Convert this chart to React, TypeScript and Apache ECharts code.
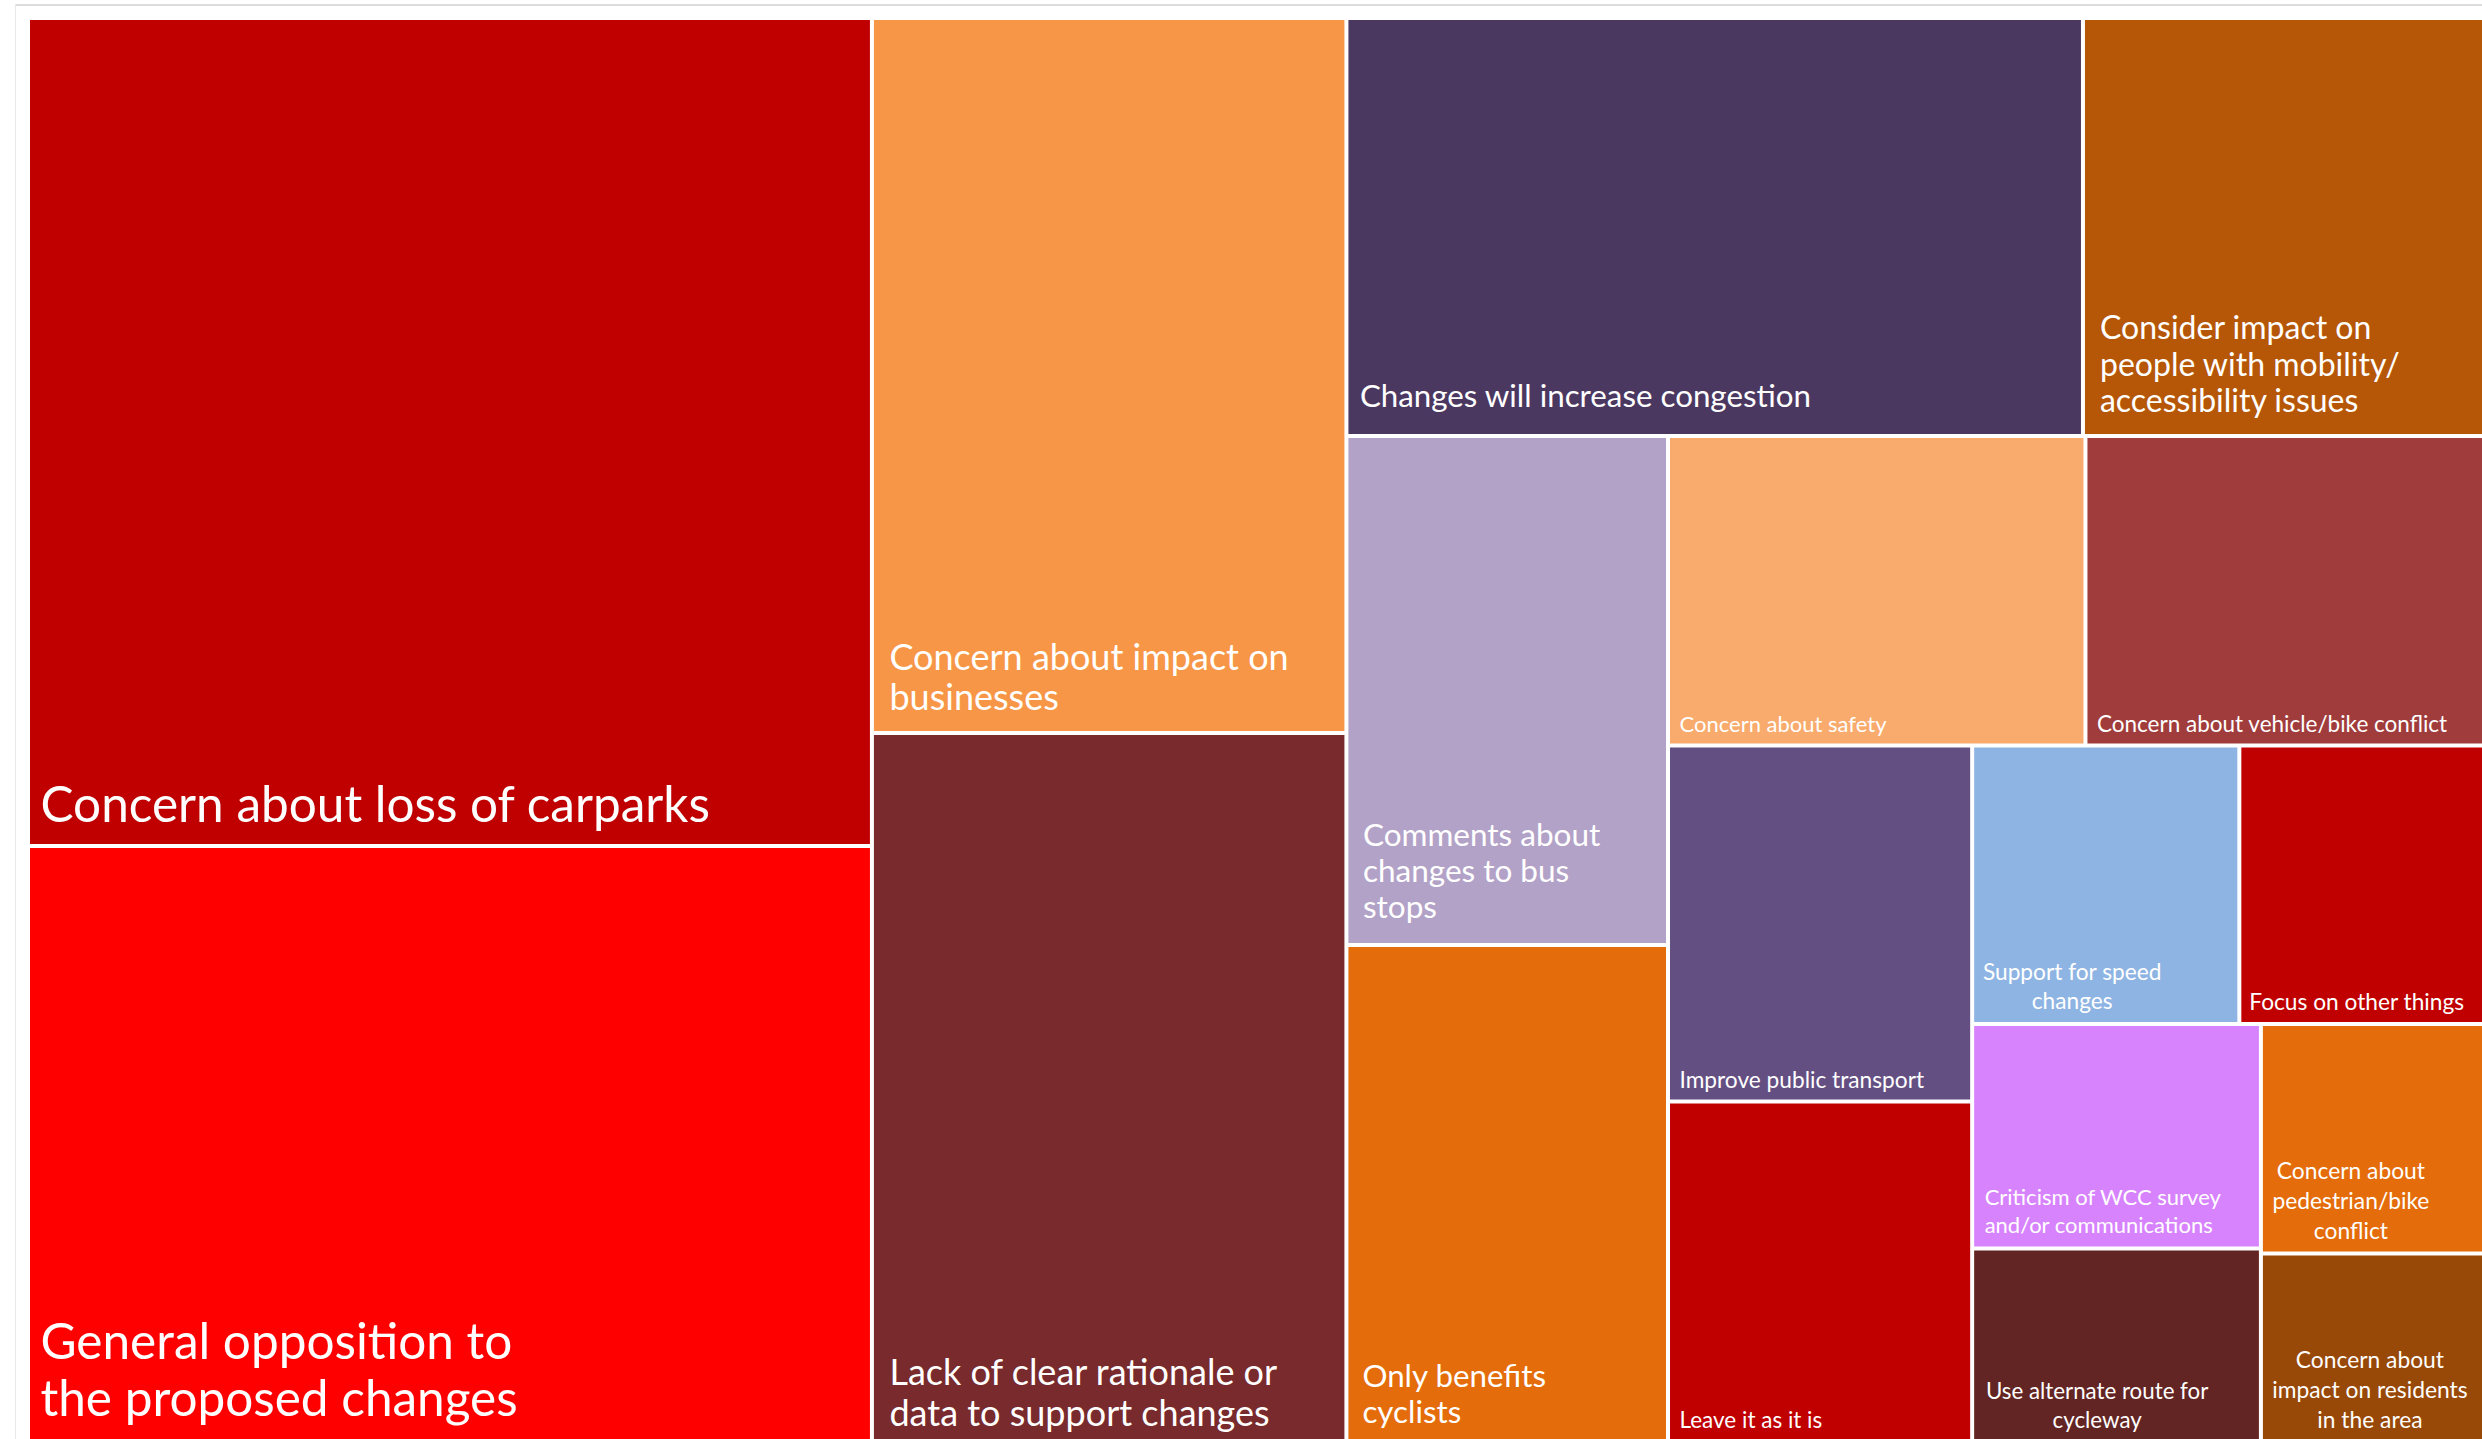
import React, { useEffect, useRef } from 'react';
import * as echarts from 'echarts';

// ---- data (relative sizes of the cells) ----
const topics: string[] = [
  'Concern about loss of carparks',
  'General opposition to the proposed changes',
  'Concern about impact on businesses',
  'Lack of clear rationale or data to support changes',
  'Changes will increase congestion',
  'Consider impact on people with mobility/accessibility issues',
  'Comments about changes to bus stops',
  'Only benefits cyclists',
  'Concern about safety',
  'Concern about vehicle/bike conflict',
  'Improve public transport',
  'Leave it as it is',
  'Support for speed changes',
  'Focus on other things',
  'Criticism of WCC survey and/or communications',
  'Use alternate route for cycleway',
  'Concern about pedestrian/bike conflict',
  'Concern about impact on residents in the area',
];

const counts: number[] = [
  334.3, 240.2, 162.3, 160.7, 147.3, 80.2, 78.3, 76.3, 61.8,
  59.0, 51.8, 49.4, 35.6, 32.6, 31.0, 26.6, 24.5, 20.0,
];

const labelTexts: string[] = [
  'Concern about loss of carparks',
  'General opposition to\nthe proposed changes',
  'Concern about impact on\nbusinesses',
  'Lack of clear rationale or\ndata to support changes',
  'Changes will increase congestion',
  'Consider impact on\npeople with mobility/\naccessibility issues',
  'Comments about\nchanges to bus\nstops',
  'Only benefits\ncyclists',
  'Concern about safety',
  'Concern about vehicle/bike conflict',
  'Improve public transport',
  'Leave it as it is',
  'Support for speed\nchanges',
  'Focus on other things',
  'Criticism of WCC survey\nand/or communications',
  'Use alternate route for\ncycleway',
  'Concern about\npedestrian/bike\nconflict',
  'Concern about\nimpact on residents\nin the area',
];

// grouping of the topics (indices) as nested blocks of the treemap
const grouping: any = [
  [0, 1],
  [2, 3],
  [[4, 5], [[6, 7], [[8, 9], [[10, 11], [[12, 13], [[14, 15], [16, 17]]]]]]],
];

// ---- styles ----
const colors: string[] = [
  '#C00000', '#FF0000', '#F79646', '#782A2C', '#4B3861', '#B65708',
  '#B3A2C7', '#E46C0A', '#F8AB6C', '#A03C3B', '#644F83', '#C00000',
  '#8EB4E3', '#C00000', '#D883FE', '#632523', '#E46C0A', '#984807',
];

type LabelStyle = { size: number; lh: number; pl: number; pb: number; center?: number };
const labelStyles: LabelStyle[] = [
  { size: 49.5, lh: 59, pl: 10.5, pb: 11.5 },
  { size: 49.5, lh: 57, pl: 10.5, pb: 13.9 },
  { size: 36, lh: 40, pl: 15.5, pb: 14.7 },
  { size: 36, lh: 41, pl: 15.5, pb: 6.8 },
  { size: 31.3, lh: 35, pl: 11.5, pb: 21.4 },
  { size: 32, lh: 36.5, pl: 15, pb: 16.2 },
  { size: 31.5, lh: 36, pl: 14.5, pb: 19 },
  { size: 31.3, lh: 36, pl: 14, pb: 10.3 },
  { size: 22, lh: 27, pl: 9.5, pb: 6 },
  { size: 22.5, lh: 27, pl: 9.5, pb: 6.2 },
  { size: 22.7, lh: 27, pl: 9.5, pb: 6.3 },
  { size: 22.5, lh: 27, pl: 9.5, pb: 6.2 },
  { size: 22.7, lh: 29, pl: 0, pb: 7.3, center: 98 },
  { size: 22.7, lh: 27, pl: 8, pb: 7.3 },
  { size: 22, lh: 28, pl: 10.5, pb: 8 },
  { size: 22.3, lh: 29, pl: 0, pb: 5.1, center: 123 },
  { size: 22.8, lh: 30, pl: 0, pb: 6.3, center: 88 },
  { size: 22.8, lh: 30, pl: 0, pb: 5.3, center: 107 },
];

function leaf(i: number) {
  const s = labelStyles[i];
  const centered = s.center != null;
  return {
    name: topics[i],
    value: counts[i],
    itemStyle: { color: colors[i], borderColor: '#ffffff', borderWidth: 2, gapWidth: 0 },
    label: {
      show: true,
      formatter: labelTexts[i],
      position: 'insideBottomLeft',
      distance: 0,
      fontFamily: 'Lato',
      fontSize: s.size,
      lineHeight: s.lh,
      color: '#ffffff',
      overflow: 'none',
      align: centered ? 'center' : 'left',
      offset: [centered ? s.center : 0, 0],
      padding: [0, 0, s.pb, centered ? 0 : s.pl],
    },
  };
}

let groupCounter = 0;
function build(node: any): any {
  if (typeof node === 'number') return leaf(node);
  groupCounter += 1;
  return {
    name: 'group ' + groupCounter,
    children: node.map((n: any) => build(n)),
    itemStyle: { borderWidth: 0, gapWidth: 0, borderColor: '#ffffff' },
    label: { show: false },
  };
}

export default function App() {
  const ref = useRef<HTMLDivElement>(null);
  useEffect(() => {
    if (!ref.current) return;
    const chart = echarts.init(ref.current, null, { renderer: 'svg' });
    groupCounter = 0;
    const data = grouping.map((g: any) => build(g));
    chart.setOption({
      animation: false,
      backgroundColor: '#ffffff',
      graphic: [
        { type: 'rect', silent: true, shape: { x: 15, y: 4, width: 2467, height: 2 }, style: { fill: '#DCDCDC' } },
        { type: 'rect', silent: true, shape: { x: 15, y: 4, width: 1, height: 1435 }, style: { fill: '#E8E8E8' } },
      ],
      series: [
        {
          type: 'treemap',
          left: 28,
          top: 18,
          width: 2456,
          height: 1423,
          roam: false,
          nodeClick: false,
          sort: false,
          squareRatio: 1,
          breadcrumb: { show: false },
          itemStyle: { borderWidth: 0, gapWidth: 0, borderColor: '#ffffff' },
          upperLabel: { show: false },
          label: { show: true },
          emphasis: { disabled: true },
          data,
        },
      ],
    });
    return () => chart.dispose();
  }, []);
  return (
    <div
      ref={ref}
      style={{ position: 'fixed', left: 0, top: 0, width: 2482, height: 1439, overflow: 'hidden', background: '#fff' }}
    />
  );
}
